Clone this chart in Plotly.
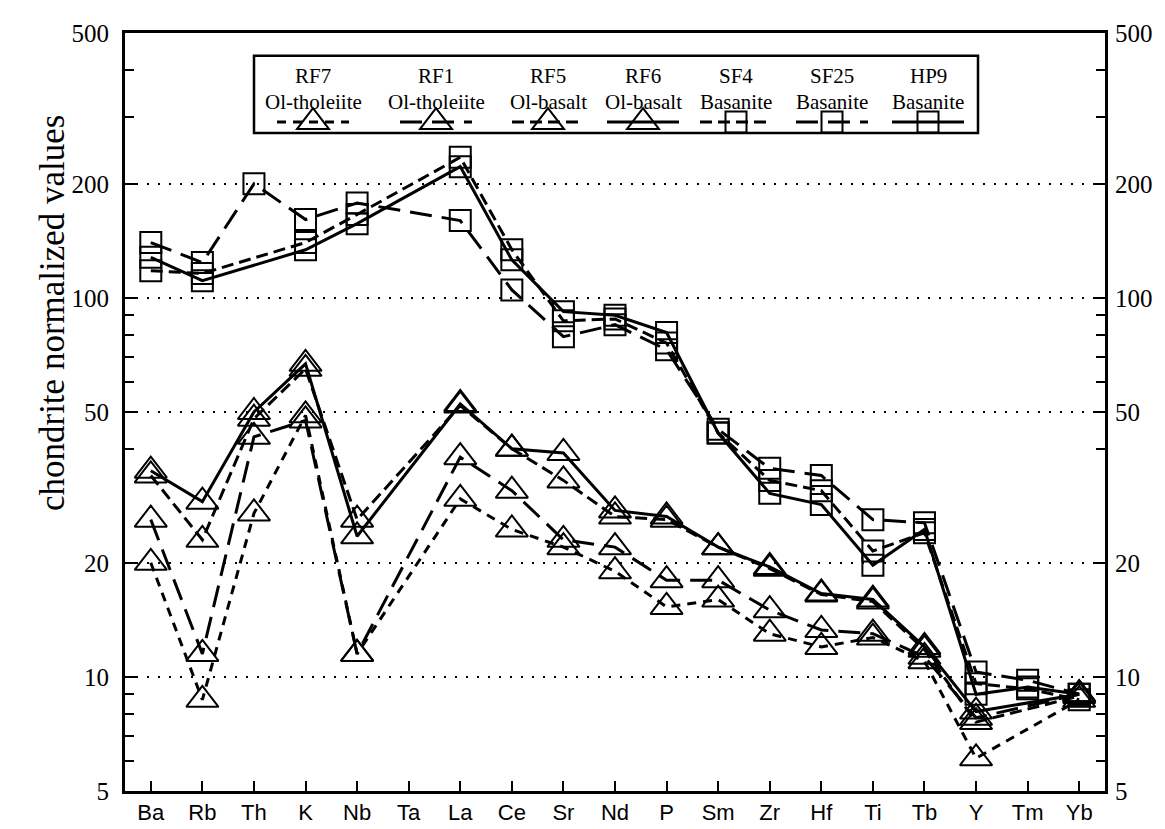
import math
import plotly.graph_objects as go

# ---------------- data ----------------
elements = ["Ba", "Rb", "Th", "K", "Nb", "Ta", "La", "Ce", "Sr", "Nd",
            "P", "Sm", "Zr", "Hf", "Ti", "Tb", "Y", "Tm", "Yb"]

rf7 = [20, 8.7, 27, 49, 11.5, None, 29.5, 24.5, 22, 19, 15.3, 16, 13, 12, 12.7, 11, 6.1, None, 8.7]
rf1 = [26, 11.5, 43, 47.5, 11.5, None, 38, 31, 23, 22, 18, 18, 15, 13.3, 13, 11.3, 7.8, None, 9.0]
rf5 = [34, 23, 48, 65, 26, None, 52, 40, 33, 26.5, 26, 22, 19.3, 16.5, 15.8, 11.8, 7.6, None, 8.9]
rf6 = [35, 29, 50, 67, 23.5, None, 52.5, 40, 39, 27.5, 26.5, 22, 19.5, 16.6, 16, 12, 8.1, None, 9.0]
sf4 = [118, 116, None, 140, 166, None, 235, 134, 87, 88, 76, 44, 33, 31, 21.5, 24, 9.6, 9.3, 8.7]
sf25 = [140, 124, 200, 161, 178, None, 160, 105, 79, 85, 73, 45, 35.5, 34, 26, 25.5, 10.3, 9.8, 9.0]
hp9 = [128, 111, None, 134, 157, None, 222, 126, 92, 90, 81, 44, 30.5, 28.5, 19.7, 24.5, 9.0, 9.4, 9.0]

sample_names = ["RF7", "RF1", "RF5", "RF6", "SF4", "SF25", "HP9"]
rock_types = ["Ol-tholeiite", "Ol-tholeiite", "Ol-basalt", "Ol-basalt",
              "Basanite", "Basanite", "Basanite"]
series_values = [rf7, rf1, rf5, rf6, sf4, sf25, hp9]

y_ticks = [5, 10, 20, 50, 100, 200, 500]
y_minor = [6, 7, 8, 9, 40, 60, 70, 80, 90, 300, 400]

# ---------------- styles ----------------
dashes = ["9px,7px", "22px,10px", "12px,6px", "solid", "12px,6px", "22px,10px", "solid"]
symbols = ["triangle-up-open"] * 4 + ["square-open"] * 3
sizes = [28] * 4 + [21] * 3

# plot area in pixels
L, R, T, B = 117, 1097, 17, 783
W, H = 1165, 829
PW, PH = R - L, B - T


def px_x(px):
    return (px - L) / PW


def px_y(py):
    return (B - py) / PH


fig = go.Figure()
for i, (name, vals) in enumerate(zip(sample_names, series_values)):
    fig.add_trace(go.Scatter(
        x=elements, y=vals, name=name,
        mode="lines+markers", connectgaps=True,
        line=dict(color="black", width=3, dash=dashes[i]),
        marker=dict(symbol=symbols[i], size=sizes[i], color="black",
                    line=dict(width=2, color="black")),
        yaxis="y2" if i == 6 else "y",
        showlegend=False,
    ))

yrange = [math.log10(5), math.log10(500)]
serif = "Liberation Serif, Times New Roman, serif"
sans = "Liberation Sans, Arial, sans-serif"

yaxis_common = dict(
    type="log", range=yrange,
    tickmode="array", tickvals=y_ticks, ticktext=[str(v) for v in y_ticks],
    ticks="inside", ticklen=12, tickwidth=2, tickcolor="black",
    tickfont=dict(family=serif, size=25, color="black"),
    minor=dict(tickmode="array", tickvals=y_minor, ticks="inside", ticklen=9,
               tickwidth=2, tickcolor="black", showgrid=False),
    showline=True, linewidth=3, linecolor="black",
    zeroline=False,
)

fig.update_layout(
    width=W, height=H,
    margin=dict(l=L, r=W - R, t=T, b=H - B, pad=0),
    paper_bgcolor="white", plot_bgcolor="white",
    xaxis=dict(
        type="category", categoryorder="array", categoryarray=elements,
        range=[-0.5, 18.5],
        showline=True, linewidth=3, linecolor="black", mirror=True,
        ticks="inside", ticklen=10, tickwidth=2, tickcolor="black",
        tickfont=dict(family=sans, size=22, color="black"),
        showgrid=False, zeroline=False,
    ),
    yaxis=dict(**yaxis_common, side="left", mirror=True, ticklabelstandoff=8,
               showgrid=True, gridcolor="black", gridwidth=2, griddash="2px,9px"),
    yaxis2=dict(**yaxis_common, side="right", overlaying="y", showgrid=False,
                ticklabelstandoff=2),
)

# ---------------- legend (drawn as box + text + samples) ----------------
shapes = [dict(type="rect", xref="paper", yref="paper",
               x0=px_x(246), x1=px_x(970), y0=px_y(118), y1=px_y(40),
               line=dict(color="black", width=2.5), fillcolor="rgba(0,0,0,0)")]
annotations = []
centers = [305, 428, 540, 635, 728, 824, 920]
line_y = 107
for i, cx in enumerate(centers):
    annotations.append(dict(
        xref="paper", yref="paper", x=px_x(cx), y=px_y(60),
        text=sample_names[i], showarrow=False, xanchor="center", yanchor="middle",
        font=dict(family=serif, size=21, color="black")))
    annotations.append(dict(
        xref="paper", yref="paper", x=px_x(cx), y=px_y(87),
        text=rock_types[i], showarrow=False, xanchor="center", yanchor="middle",
        font=dict(family=serif, size=21, color="black")))
    shapes.append(dict(type="line", xref="paper", yref="paper",
                       x0=px_x(cx - 36), x1=px_x(cx + 36), y0=px_y(line_y), y1=px_y(line_y),
                       line=dict(color="black", width=3,
                                 dash=None if dashes[i] == "solid" else dashes[i])))
    if symbols[i].startswith("triangle"):
        path = "M -16,-7 L 16,-7 L 0,14 Z"
    else:
        path = "M -10.5,-10.5 L 10.5,-10.5 L 10.5,10.5 L -10.5,10.5 Z"
    shapes.append(dict(type="path", xref="paper", yref="paper",
                       xsizemode="pixel", ysizemode="pixel",
                       xanchor=px_x(cx), yanchor=px_y(line_y), path=path,
                       line=dict(color="black", width=2), fillcolor="rgba(0,0,0,0)"))

annotations.append(dict(
    xref="paper", yref="paper", x=px_x(44), y=px_y(300),
    text="chondrite normalized values", textangle=-90, showarrow=False,
    xanchor="center", yanchor="middle",
    font=dict(family=serif, size=35, color="black")))

fig.update_layout(shapes=shapes, annotations=annotations)

fig.write_html("out.html")
